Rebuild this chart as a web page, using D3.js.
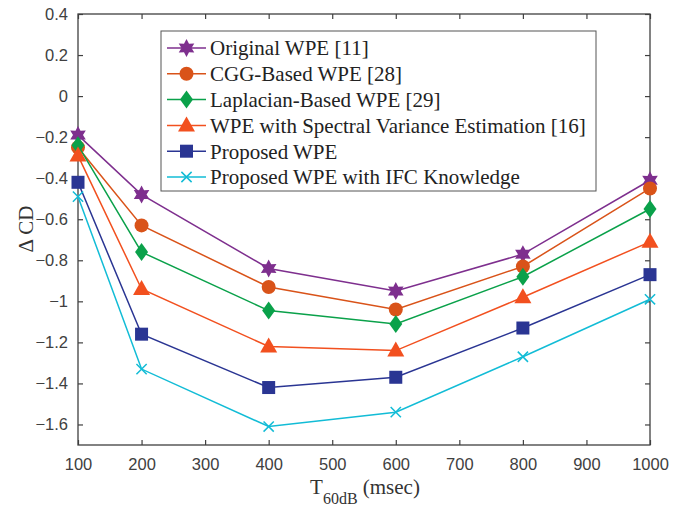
<!DOCTYPE html>
<html>
<head>
<meta charset="utf-8">
<script src="https://cdn.jsdelivr.net/npm/d3@7"></script>
<style>
  body { margin: 0; background: #fff; }
  svg { display: block; }
</style>
</head>
<body>
<svg id="chart"></svg>
<script>
const t60 = [100, 200, 400, 600, 800, 1000];
const xTicks = [100, 200, 300, 400, 500, 600, 700, 800, 900, 1000];
const yTicks = [0.4, 0.2, 0, -0.2, -0.4, -0.6, -0.8, -1, -1.2, -1.4, -1.6];

const seriesNames = [
  "Original WPE [11]",
  "CGG-Based WPE [28]",
  "Laplacian-Based WPE [29]",
  "WPE with Spectral Variance Estimation [16]",
  "Proposed WPE",
  "Proposed WPE with IFC Knowledge"
];
const originalWpe  = [-0.19, -0.48, -0.84, -0.95, -0.77, -0.41];
const cggWpe       = [-0.25, -0.63, -0.93, -1.04, -0.83, -0.45];
const laplacianWpe = [-0.24, -0.76, -1.045, -1.11, -0.88, -0.55];
const spectralWpe  = [-0.29, -0.94, -1.22, -1.24, -0.98, -0.71];
const proposedWpe  = [-0.42, -1.16, -1.42, -1.37, -1.13, -0.87];
const ifcWpe       = [-0.49, -1.33, -1.61, -1.54, -1.27, -0.99];

const colors = ["#7E2F8E", "#D95319", "#0AA14A", "#F2501F", "#2A3593", "#12BCD6"];
const markers = ["star", "circle", "diamond", "triangle", "square", "cross"];
const allSeries = [originalWpe, cggWpe, laplacianWpe, spectralWpe, proposedWpe, ifcWpe];

const W = 699, H = 510;
const margin = { top: 14, right: 49, bottom: 65, left: 78 };
const width = W - margin.left - margin.right;
const height = H - margin.top - margin.bottom;

const svg = d3.select("#chart").attr("width", W).attr("height", H);
const g = svg.append("g").attr("transform", `translate(${margin.left},${margin.top})`);

const x = d3.scaleLinear().domain([100, 1000]).range([0, width]);
const y = d3.scaleLinear().domain([-1.7, 0.4]).range([height, 0]);

const axisColor = "#404040";
const tickFont = "Liberation Sans, Arial, sans-serif";
const serif = "Liberation Serif, Times New Roman, serif";

function styleAxis(sel, showLabels) {
  sel.select(".domain").remove();
  sel.selectAll(".tick line").attr("stroke", axisColor).attr("stroke-width", 1.2);
  sel.selectAll(".tick text")
    .attr("fill", axisColor)
    .style("font-family", tickFont)
    .style("font-size", "16.5px")
    .style("display", showLabels ? null : "none");
}

const fmt = d => d === 0 ? "0" : d3.format("~g")(d);

g.append("g").attr("transform", `translate(0,${height})`)
  .call(d3.axisBottom(x).tickValues(xTicks).tickSize(-5).tickPadding(13).tickFormat(d3.format("d")))
  .call(s => styleAxis(s, true));
g.append("g")
  .call(d3.axisTop(x).tickValues(xTicks).tickSize(-5))
  .call(s => styleAxis(s, false));
g.append("g")
  .call(d3.axisLeft(y).tickValues(yTicks).tickSize(-5).tickPadding(10).tickFormat(fmt))
  .call(s => styleAxis(s, true));
g.append("g").attr("transform", `translate(${width},0)`)
  .call(d3.axisRight(y).tickValues(yTicks).tickSize(-5))
  .call(s => styleAxis(s, false));

g.append("rect")
  .attr("width", width).attr("height", height)
  .attr("fill", "none").attr("stroke", axisColor).attr("stroke-width", 1.3);

function drawMarker(sel, type, color) {
  if (type === "cross") {
    sel.append("path")
      .attr("d", d3.symbol(d3.symbolX, 70)())
      .attr("fill", "none").attr("stroke", color).attr("stroke-width", 1.5);
  } else if (type === "star") {
    // six-pointed star (hexagram)
    const pts = [];
    for (let i = 0; i < 12; i++) {
      const r = i % 2 === 0 ? 9 : 5;
      const a = Math.PI / 6 * i - Math.PI / 2;
      pts.push([r * Math.cos(a), r * Math.sin(a)]);
    }
    sel.append("path").attr("d", d3.line()(pts) + "Z").attr("fill", color);
  } else if (type === "circle") {
    sel.append("circle").attr("r", 7).attr("fill", color);
  } else if (type === "diamond") {
    sel.append("path").attr("d", "M0,-9L6.5,0L0,9L-6.5,0Z").attr("fill", color);
  } else if (type === "triangle") {
    sel.append("path").attr("d", "M0,-9L8.5,6L-8.5,6Z").attr("fill", color);
  } else if (type === "square") {
    sel.append("rect").attr("x", -6.5).attr("y", -6.5).attr("width", 13).attr("height", 13).attr("fill", color);
  }
}

const line = d3.line().x(d => x(d[0])).y(d => y(d[1]));

allSeries.forEach((vals, i) => {
  const pts = t60.map((t, j) => [t, vals[j]]);
  g.append("path").datum(pts)
    .attr("d", line).attr("fill", "none")
    .attr("stroke", colors[i]).attr("stroke-width", 1.5);
  pts.forEach(p => {
    const m = g.append("g").attr("transform", `translate(${x(p[0])},${y(p[1])})`);
    drawMarker(m, markers[i], colors[i]);
  });
});

// legend
const legend = svg.append("g").attr("transform", "translate(161,31)");
legend.append("rect")
  .attr("width", 435).attr("height", 160)
  .attr("fill", "#fff").attr("stroke", "#555").attr("stroke-width", 1);
seriesNames.forEach((name, i) => {
  const ly = 17 + i * 25.8;
  const row = legend.append("g").attr("transform", `translate(0,${ly})`);
  row.append("line").attr("x1", 6).attr("x2", 45)
    .attr("stroke", colors[i]).attr("stroke-width", 1.5);
  const m = row.append("g").attr("transform", "translate(25.5,0)");
  drawMarker(m, markers[i], colors[i]);
  row.append("text").attr("x", 49).attr("y", 0).attr("dy", "0.35em")
    .style("font-family", serif)
    .style("font-size", "21px").attr("fill", "#222")
    .text(name);
});

// axis titles
svg.append("text")
  .attr("transform", `translate(33,${229}) rotate(-90)`)
  .attr("text-anchor", "middle")
  .style("font-family", serif)
  .style("font-size", "21px").attr("fill", "#333")
  .text("\u0394 CD");

const xt = svg.append("text")
  .attr("x", 365).attr("y", 494)
  .attr("text-anchor", "middle")
  .style("font-family", serif)
  .style("font-size", "21px").attr("fill", "#333");
xt.append("tspan").text("T");
xt.append("tspan").attr("dy", 10).style("font-size", "16px").text("60dB");
xt.append("tspan").attr("dy", -10).text(" (msec)");
</script>
</body>
</html>
